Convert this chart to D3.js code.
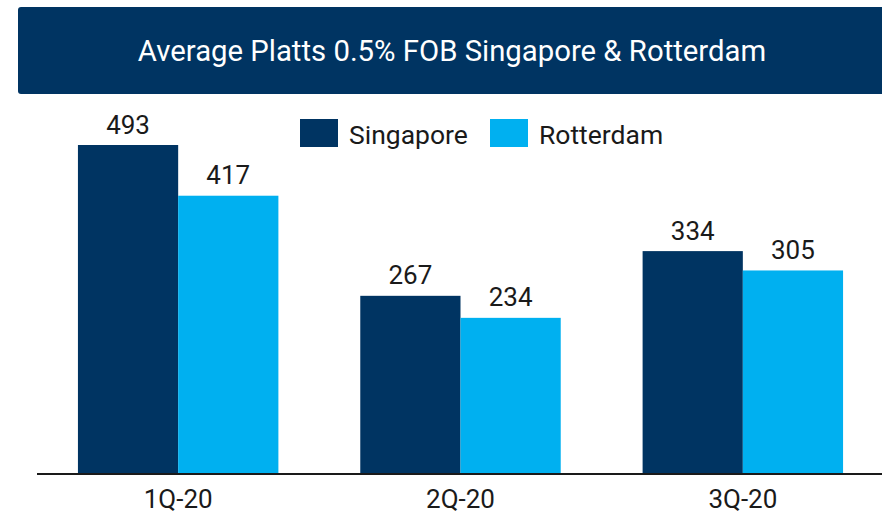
<!DOCTYPE html>
<html>
<head>
<meta charset="utf-8">
<script src="https://cdn.jsdelivr.net/npm/d3@7"></script>
<style>
  body { margin: 0; background: #fff; }
  text { font-family: Roboto, "Open Sans", sans-serif; }
</style>
</head>
<body>
<div id="chart"></div>
<script>
let width = 882, height = 519;

// chart data
let quarters = ["1Q-20", "2Q-20", "3Q-20"];
let seriesNames = ["Singapore", "Rotterdam"];
let singapore = [493, 267, 334];
let rotterdam = [417, 234, 305];
let colors = ["#003462", "#00B0F0"];

let title = "Average Platts 0.5% FOB Singapore & Rotterdam";

let svg = d3.select("#chart").append("svg")
    .attr("width", width)
    .attr("height", height);

// title banner
svg.append("rect")
    .attr("x", 18)
    .attr("y", 7)
    .attr("width", 900)
    .attr("height", 87)
    .attr("rx", 3)
    .attr("fill", colors[0]);

svg.append("text")
    .attr("x", 452)
    .attr("y", 61)
    .attr("text-anchor", "middle")
    .attr("fill", "#fff")
    .attr("font-size", 29.3)
    .text(title);

let baseY = 474;

let x0 = d3.scaleBand()
    .domain(quarters)
    .range([37, 884])
    .paddingInner(0.29)
    .paddingOuter(0.145);

let x1 = d3.scaleBand()
    .domain(seriesNames)
    .range([0, x0.bandwidth()]);

let y = d3.scaleLinear()
    .domain([0, 493])
    .range([baseY, 145]);

let rows = quarters.map((q, i) => ({
    quarter: q,
    values: [
        {name: seriesNames[0], value: singapore[i]},
        {name: seriesNames[1], value: rotterdam[i]}
    ]
}));

let groups = svg.selectAll(".group")
    .data(rows)
    .enter().append("g")
    .attr("class", "group")
    .attr("transform", d => "translate(" + x0(d.quarter) + ",0)");

groups.selectAll("rect")
    .data(d => d.values)
    .enter().append("rect")
    .attr("x", d => x1(d.name))
    .attr("y", d => y(d.value))
    .attr("width", x1.bandwidth())
    .attr("height", d => baseY - y(d.value))
    .attr("fill", (d, i) => colors[i]);

// value labels above bars
groups.selectAll(".label")
    .data(d => d.values)
    .enter().append("text")
    .attr("class", "label")
    .attr("x", d => x1(d.name) + x1.bandwidth() / 2)
    .attr("y", d => y(d.value) - 11.5)
    .attr("text-anchor", "middle")
    .attr("font-size", 26)
    .attr("fill", "#1a1a1a")
    .text(d => d.value);

// x axis
let xAxis = svg.append("g")
    .attr("transform", "translate(0," + baseY + ")")
    .call(d3.axisBottom(x0).tickSize(0).tickPadding(16));

xAxis.select(".domain")
    .attr("d", "M37,0H882")
    .attr("stroke", "#1a1a1a")
    .attr("stroke-width", 2);

xAxis.selectAll("text")
    .attr("font-size", 26)
    .attr("fill", "#1a1a1a")
    .attr("font-family", "Roboto, sans-serif");

// legend
let legend = svg.selectAll(".legend")
    .data(seriesNames)
    .enter().append("g")
    .attr("class", "legend")
    .attr("transform", (d, i) => "translate(" + [300, 490][i] + ",119)");

legend.append("rect")
    .attr("width", 38)
    .attr("height", 28)
    .attr("fill", (d, i) => colors[i]);

legend.append("text")
    .attr("x", 49)
    .attr("y", 25)
    .attr("font-size", 26.5)
    .attr("fill", "#1a1a1a")
    .text(d => d);
</script>
</body>
</html>
